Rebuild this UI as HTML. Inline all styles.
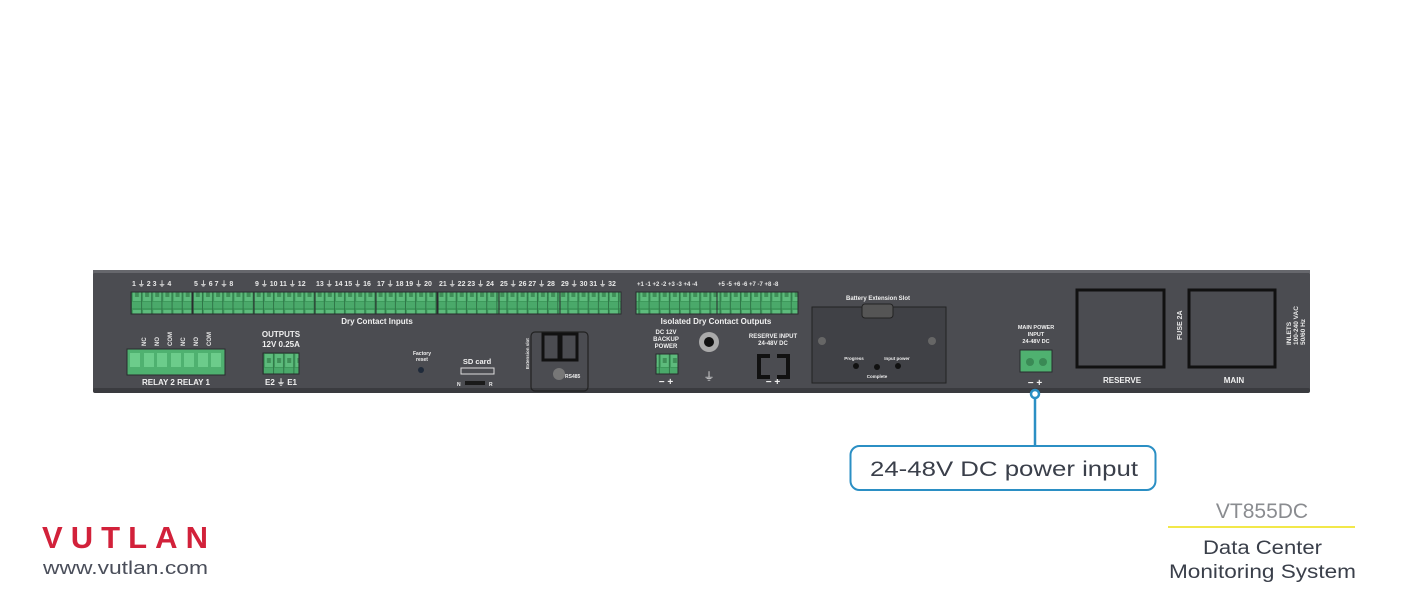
<!DOCTYPE html>
<html><head><meta charset="utf-8"><style>
html,body{margin:0;padding:0;background:#fff;width:1401px;height:601px;overflow:hidden}
svg{display:block}
text{font-family:"Liberation Sans",sans-serif}
</style></head><body>
<svg width="1401" height="601" viewBox="0 0 1401 601" xmlns="http://www.w3.org/2000/svg">
<defs>
<pattern id="pin" x="0" y="0" width="10.15" height="22" patternUnits="userSpaceOnUse">
<rect x="0" y="0" width="10.15" height="22" fill="#3e9a5c"/>
<rect x="1" y="2" width="8" height="13" fill="#5dbb7c"/>
<rect x="3" y="6" width="4" height="5" fill="#3f8f58"/>
<rect x="0" y="16" width="10.15" height="6" fill="#4aa96a"/>
<rect x="9.2" y="0" width="1" height="22" fill="#2f7447"/>
</pattern>
</defs>
<rect x="93" y="270" width="1217" height="123" rx="4" fill="#4b4c51"/>
<rect x="93" y="270" width="1217" height="3" fill="#66676c"/>
<rect x="93" y="388" width="1217" height="5" rx="2" fill="#3a3b3f"/>

<g stroke="#2a2b2e" stroke-width="1">
<rect x="131" y="292" width="61" height="22" fill="url(#pin)"/>
<rect x="193" y="292" width="61" height="22" fill="url(#pin)"/>
<rect x="254" y="292" width="61" height="22" fill="url(#pin)"/>
<rect x="315" y="292" width="61" height="22" fill="url(#pin)"/>
<rect x="376" y="292" width="61" height="22" fill="url(#pin)"/>
<rect x="438" y="292" width="61" height="22" fill="url(#pin)"/>
<rect x="499" y="292" width="61" height="22" fill="url(#pin)"/>
<rect x="560" y="292" width="61" height="22" fill="url(#pin)"/>
<rect x="636" y="292" width="81" height="22" fill="url(#pin)"/>
<rect x="717" y="292" width="81" height="22" fill="url(#pin)"/>
</g>
<g fill="#e8e8e8" font-size="7" font-weight="bold">
<text x="132" y="286">1 ⏚ 2 3 ⏚ 4</text>
<text x="194" y="286">5 ⏚ 6 7 ⏚ 8</text>
<text x="255" y="286">9 ⏚ 10 11 ⏚ 12</text>
<text x="316" y="286">13 ⏚ 14 15 ⏚ 16</text>
<text x="377" y="286">17 ⏚ 18 19 ⏚ 20</text>
<text x="439" y="286">21 ⏚ 22 23 ⏚ 24</text>
<text x="500" y="286">25 ⏚ 26 27 ⏚ 28</text>
<text x="561" y="286">29 ⏚ 30 31 ⏚ 32</text>
<text x="637" y="286" font-size="6">+1 -1 +2 -2 +3 -3 +4 -4</text>
<text x="718" y="286" font-size="6">+5 -5 +6 -6 +7 -7 +8 -8</text>
</g>
<g fill="#f0f0f0" font-weight="bold" text-anchor="middle">
<text x="377" y="324" font-size="8">Dry Contact Inputs</text>
<text x="716" y="324" font-size="8">Isolated Dry Contact Outputs</text>
<text x="281" y="337" font-size="8">OUTPUTS</text>
<text x="281" y="347" font-size="8">12V 0.25A</text>
<text x="176" y="385" font-size="8">RELAY 2   RELAY 1</text>
<text x="281" y="385" font-size="8">E2 ⏚ E1</text>
<text x="422" y="355" font-size="5">Factory</text>
<text x="422" y="361" font-size="5">reset</text>
<text x="477" y="364" font-size="7.5">SD card</text>
<text x="666" y="334" font-size="6">DC 12V</text>
<text x="666" y="341" font-size="6">BACKUP</text>
<text x="666" y="348" font-size="6">POWER</text>
<text x="666" y="385" font-size="10">− +</text>
<text x="773" y="338" font-size="6">RESERVE INPUT</text>
<text x="773" y="345" font-size="6">24-48V DC</text>
<text x="773" y="385" font-size="10">− +</text>
<text x="878" y="300" font-size="6">Battery Extension Slot</text>
<text x="1036" y="329" font-size="5.5">MAIN POWER</text>
<text x="1036" y="336" font-size="5.5">INPUT</text>
<text x="1036" y="343" font-size="5.5">24-48V DC</text>
<text x="1035" y="386" font-size="10">− +</text>
<text x="1122" y="383" font-size="8">RESERVE</text>
<text x="1234" y="383" font-size="8">MAIN</text>
</g>
<g fill="#e8e8e8" font-size="6" font-weight="bold">
<text transform="translate(146,346) rotate(-90)">NC</text>
<text transform="translate(159,346) rotate(-90)">NO</text>
<text transform="translate(172,346) rotate(-90)">COM</text>
<text transform="translate(185,346) rotate(-90)">NC</text>
<text transform="translate(198,346) rotate(-90)">NO</text>
<text transform="translate(211,346) rotate(-90)">COM</text>
<text transform="translate(529,369) rotate(-90)" font-size="4.5">Extension slot</text>
<text transform="translate(1182,340) rotate(-90)" font-size="7">FUSE 2A</text>
<text transform="translate(1291,345) rotate(-90)" font-size="6.5">INLETS</text>
<text transform="translate(1298,345) rotate(-90)" font-size="6.5">100-240 VAC</text>
<text transform="translate(1305,345) rotate(-90)" font-size="6.5">50/60 Hz</text>
</g>
<rect x="127" y="349" width="98" height="26" fill="#4fb170" stroke="#2a2b2e"/>
<g fill="#6ccc8b"><rect x="130" y="353" width="10" height="14"/><rect x="144" y="353" width="10" height="14"/><rect x="157" y="353" width="10" height="14"/><rect x="171" y="353" width="10" height="14"/><rect x="184" y="353" width="10" height="14"/><rect x="198" y="353" width="10" height="14"/><rect x="211" y="353" width="10" height="14"/></g>
<rect x="263" y="353" width="36" height="21" fill="url(#pin)" stroke="#2a2b2e"/>
<rect x="656" y="354" width="22" height="20" fill="url(#pin)" stroke="#2a2b2e"/>
<rect x="1020" y="350" width="32" height="22" fill="#4fb170" stroke="#2a2b2e"/>
<circle cx="1030" cy="362" r="4" fill="#3a8a55"/><circle cx="1043" cy="362" r="4" fill="#3a8a55"/>
<circle cx="421" cy="370" r="3" fill="#1f2a3a"/>
<rect x="461" y="368" width="33" height="6" fill="none" stroke="#ddd" stroke-width="1"/>
<rect x="465" y="381" width="20" height="4" fill="#1a1a1a"/>
<text x="457" y="386" font-size="5" fill="#eee" font-weight="bold">N</text><text x="489" y="386" font-size="5" fill="#eee" font-weight="bold">R</text>
<rect x="531" y="332" width="57" height="59" rx="4" fill="none" stroke="#222" stroke-width="1.2"/>
<path d="M543 334 H559 V360 H543 Z M561 334 H577 V360 H561 Z" fill="none" stroke="#111" stroke-width="3"/>
<circle cx="559" cy="374" r="6" fill="#777"/>
<text x="565" y="378" font-size="5" fill="#eee" font-weight="bold">RS485</text>
<circle cx="709" cy="342" r="10" fill="#aaa"/><circle cx="709" cy="342" r="5" fill="#111"/>
<text x="709" y="380" font-size="11" fill="#eee" text-anchor="middle">⏚</text>
<path d="M770 356 H759 V377 H770 M777 356 H788 V377 H777" fill="none" stroke="#111" stroke-width="4"/>
<rect x="812" y="307" width="134" height="76" fill="#404146" stroke="#222"/>
<rect x="862" y="304" width="31" height="14" rx="3" fill="#555" stroke="#222"/>
<circle cx="822" cy="341" r="4" fill="#666"/><circle cx="932" cy="341" r="4" fill="#666"/>
<circle cx="856" cy="366" r="3" fill="#111"/><circle cx="877" cy="367" r="3" fill="#111"/><circle cx="898" cy="366" r="3" fill="#111"/>
<text x="854" y="360" font-size="4.5" fill="#eee" text-anchor="middle" font-weight="bold">Progress</text>
<text x="897" y="360" font-size="4.5" fill="#eee" text-anchor="middle" font-weight="bold">Input power</text>
<text x="877" y="378" font-size="4.5" fill="#eee" text-anchor="middle" font-weight="bold">Complete</text>
<path d="M1077 290 H1164 V367 H1077 Z" fill="none" stroke="#111" stroke-width="3"/>
<path d="M1189 290 H1275 V367 H1189 Z" fill="none" stroke="#111" stroke-width="3"/>
<line x1="1035" y1="397" x2="1035" y2="446" stroke="#2b8fc4" stroke-width="2.5"/>
<circle cx="1035" cy="394" r="4" fill="#fff" stroke="#2b8fc4" stroke-width="2.5"/>
<rect x="850.5" y="446" width="305" height="44" rx="9" fill="#fff" stroke="#2b8fc4" stroke-width="2"/>
<text x="870" y="476" font-size="21" fill="#3a3f4a" textLength="268" lengthAdjust="spacingAndGlyphs">24-48V DC power input</text>
<text x="42" y="548" font-size="31" font-weight="bold" fill="#d2213a" textLength="166" lengthAdjust="spacing">VUTLAN</text>
<text x="43" y="574" font-size="18" fill="#4a4e5a" textLength="165" lengthAdjust="spacingAndGlyphs">www.vutlan.com</text>
<text x="1262" y="518" font-size="21" fill="#8a8c90" text-anchor="middle">VT855DC</text>
<rect x="1168" y="526" width="187" height="2" fill="#f2e84a"/>
<text x="1203" y="554" font-size="19" fill="#3a3f4a" textLength="119" lengthAdjust="spacingAndGlyphs">Data Center</text>
<text x="1169" y="578" font-size="19" fill="#3a3f4a" textLength="187" lengthAdjust="spacingAndGlyphs">Monitoring System</text>
</svg>
</body></html>
